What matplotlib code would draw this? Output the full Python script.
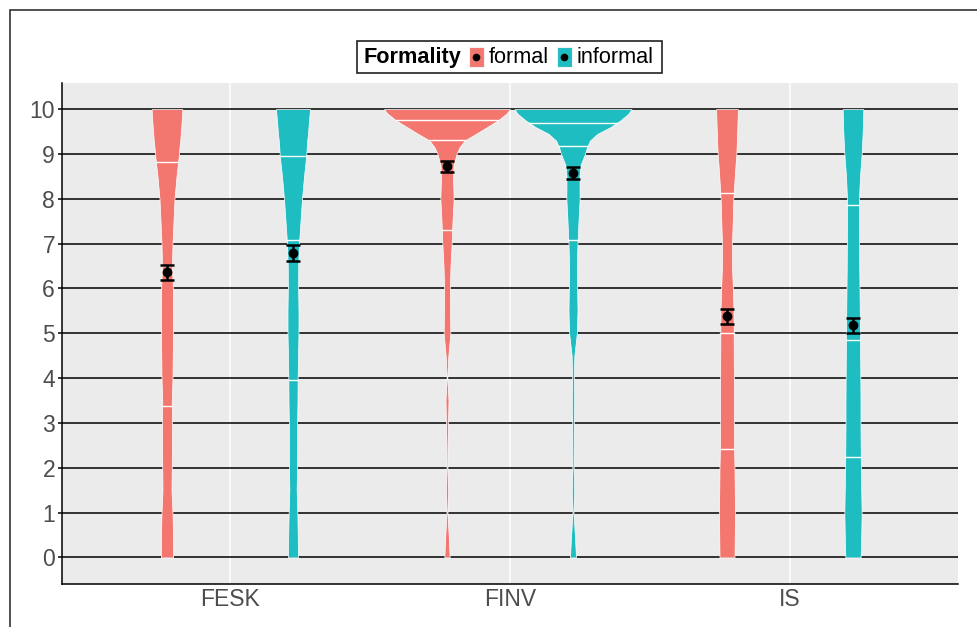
import numpy as np
import matplotlib.pyplot as plt
from matplotlib.patches import Rectangle
from matplotlib.lines import Line2D

plt.rcParams['font.family'] = ['Liberation Sans', 'DejaVu Sans']

# ---- data ----
groups = ["FESK", "FINV", "IS"]
levels = ["formal", "informal"]
colors = {"formal": "#F3766F", "informal": "#1EBDC2"}

mean_formal = [6.36, 8.73, 5.38]
lo_formal = [6.19, 8.60, 5.21]
hi_formal = [6.53, 8.85, 5.55]
mean_informal = [6.79, 8.58, 5.19]
lo_informal = [6.61, 8.45, 5.01]
hi_informal = [6.96, 8.70, 5.35]

# quartiles (25/50/75 %) drawn as white lines inside the violins
quart_formal = [[3.38, 6.50, 8.82], [7.30, 9.31, 9.75], [2.41, 5.01, 8.13]]
quart_informal = [[3.96, 7.08, 8.95], [7.08, 9.17, 9.70], [2.23, 4.85, 7.86]]

# violin outline: relative density at each rating level
dens_y = [0, 0.5, 1, 1.5, 2, 2.5, 3, 3.5, 4, 4.5, 5, 5.5, 6, 6.5, 7, 7.5, 8,
          8.5, 8.75, 9, 9.15, 9.3, 9.45, 9.6, 9.75, 9.9, 10]
dens_fesk_formal = [12.3, 12, 11, 9, 9.5, 9.8, 10, 9.5, 11, 11.5, 12, 12, 11.7,
                    10, 11, 13, 15, 19, 21.5, 24, 25, 26.5, 27.5, 28.5, 29.5,
                    30.3, 30.7]
dens_fesk_informal = [10, 9.5, 8.7, 7.3, 8, 8.3, 8.3, 9, 9.3, 10, 11, 11, 10.3,
                      10.5, 12, 15, 18, 22, 24.5, 26.7, 27.5, 28.5, 30, 31, 32,
                      33.3, 34]
dens_finv_formal = [5.3, 3.3, 1, 2, 1, 1.3, 2, 3, 0.7, 2.7, 6.7, 6, 5.7, 7, 9.3,
                    11, 13.3, 12, 13, 19, 25, 35, 58, 80, 102, 119, 126]
dens_finv_informal = [6, 3.7, 1, 2.3, 1.3, 1.5, 1.7, 2.3, 1.7, 2.7, 7.7, 9, 8.3,
                      7.7, 9, 11, 13.3, 13, 15, 24, 28, 34, 49, 75, 95, 111, 117]
dens_is_formal = [15, 15.5, 16, 15.5, 15, 14, 13.7, 13.7, 13.7, 13.5, 13.3, 13,
                  11.7, 10, 10, 11.5, 12.7, 15.5, 17, 18.7, 19.2, 19.7, 20.2,
                  20.7, 21.1, 21.5, 21.7]
dens_is_informal = [15.3, 16.5, 17.3, 16.5, 15.7, 15.3, 15, 15, 14.7, 14.3, 14,
                    13.5, 13, 12.5, 12.3, 12, 12, 14, 15.6, 17.3, 18, 18.6, 19.2,
                    19.7, 20.1, 20.4, 20.7]

dens_formal = [dens_fesk_formal, dens_finv_formal, dens_is_formal]
dens_informal = [dens_fesk_informal, dens_finv_informal, dens_is_informal]

# ---- figure ----
W, H = 978, 627
fig = plt.figure(figsize=(W / 100, H / 100), dpi=100)


def fx(px):
    return px / W


def fy(py):
    return 1 - py / H


ax = fig.add_axes([fx(62), fy(584.3), fx(958) - fx(62), fy(82.7) - fy(584.3)])
ax.set_facecolor('#EBEBEB')
ax.set_xlim(0.4, 3.6)
ax.set_ylim(-0.6, 10.59)

dodge = 0.225
max_d = max(max(d) for d in dens_formal + dens_informal)
scale = 0.45 / max_d  # widest violin fills the dodge slot

series = [
    ("formal", -dodge, dens_formal, quart_formal, mean_formal, lo_formal, hi_formal),
    ("informal", dodge, dens_informal, quart_informal, mean_informal, lo_informal, hi_informal),
]

xs = np.arange(1, len(groups) + 1)
for name, off, dens, quarts, means, lo, hi in series:
    for i, x in enumerate(xs + off):
        half = np.array(dens[i]) * scale / 2
        ax.fill_betweenx(dens_y, x - half, x + half, facecolor=colors[name],
                         edgecolor='white', linewidth=0.5, zorder=3)
        for q in quarts[i]:
            hw = np.interp(q, dens_y, half)
            ax.plot([x - hw, x + hw], [q, q], color='white', lw=1.0, zorder=4)
    m = np.array(means)
    ax.errorbar(xs + off, m, yerr=[m - np.array(lo), np.array(hi) - m],
                fmt='o', color='black', ms=6, elinewidth=1.8, capsize=5.3,
                capthick=1.8, zorder=5)

ax.set_yticks(range(0, 11))
ax.set_xticks(xs)
ax.set_xticklabels(groups)
ax.grid(axis='y', color='black', lw=1.1)
ax.grid(axis='x', color='white', lw=1.1)
ax.set_axisbelow(True)
for s in ['top', 'right']:
    ax.spines[s].set_visible(False)
for s in ['left', 'bottom']:
    ax.spines[s].set_color('black')
    ax.spines[s].set_linewidth(1.1)
ax.tick_params(axis='y', length=3, width=1.1, color='black', pad=2,
               labelsize=16.5, labelcolor='#4D4D4D')
ax.tick_params(axis='x', length=0, pad=3, labelsize=16.5, labelcolor='#4D4D4D')

# ---- legend drawn by hand to match the horizontal ggplot layout ----
fig.add_artist(Rectangle((fx(357), fy(73)), fx(662) - fx(357), fy(41) - fy(73),
                         transform=fig.transFigure, fill=False,
                         edgecolor='#222222', lw=1.2))
fig.text(fx(364), fy(57.5), "Formality", fontsize=15.6, fontweight='bold',
         va='center', ha='left', color='black')
key_x = {"formal": 469, "informal": 557}
for name in levels:
    kx = key_x[name]
    fig.add_artist(Rectangle((fx(kx), fy(67)), fx(15), fy(47) - fy(67),
                             transform=fig.transFigure, facecolor=colors[name],
                             edgecolor='#F2F2F2', lw=0.8))
    fig.add_artist(Line2D([fx(kx + 7.5)], [fy(57)], transform=fig.transFigure,
                          marker='o', ms=4.5, color='black'))
    fig.text(fx(kx + 20), fy(57.5), name, fontsize=15.6, va='center', ha='left',
             color='black')

# outer plot border (right/bottom edges fall outside the picture)
fig.add_artist(Rectangle((fx(9.5), fy(700)), fx(1100), fy(9.5) - fy(700),
                         transform=fig.transFigure, fill=False,
                         edgecolor='#333333', lw=1.2, clip_on=False))

fig.savefig('out.png', dpi=100)
